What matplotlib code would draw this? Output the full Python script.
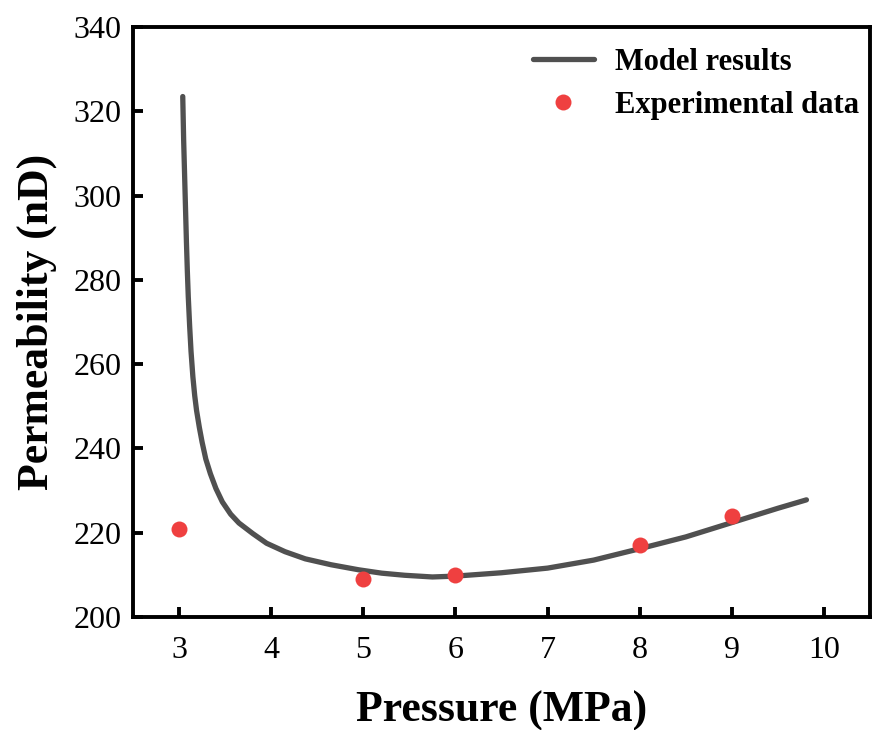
import numpy as np
import matplotlib.pyplot as plt

# --- Data ---
# model curve
p_model = [3.04, 3.05, 3.06, 3.07, 3.08, 3.09, 3.10, 3.115, 3.13, 3.15, 3.17, 3.19,
           3.22, 3.25, 3.29, 3.34, 3.40, 3.47, 3.56, 3.65, 3.80, 3.95, 4.15, 4.37,
           4.65, 4.95, 5.20, 5.45, 5.75, 6.00, 6.50, 7.00, 7.50, 8.00, 8.50, 9.00,
           9.50, 9.81]
k_model = [323.5, 313, 305, 297, 289, 282, 276, 269, 263, 257, 252.5, 249,
           245, 241.5, 237.5, 234, 230.5, 227.3, 224.4, 222.3, 219.8, 217.5, 215.5, 213.8,
           212.4, 211.2, 210.4, 209.9, 209.5, 209.7, 210.5, 211.6, 213.5, 216.2, 219.0, 222.4,
           225.8, 227.8]

# experimental points
p_exp = [3, 5, 6, 8, 9]
k_exp = [221, 209, 210, 217, 224]

xticks = [3, 4, 5, 6, 7, 8, 9, 10]
yticks = [200, 220, 240, 260, 280, 300, 320, 340]

plt.rcParams['font.family'] = ['Liberation Serif', 'DejaVu Serif']

# --- Plotting ---
fig = plt.figure(figsize=(8.73, 7.30), dpi=100)
ax = fig.add_axes([133/873, 113/730, 737/873, 590/730])

ax.plot(p_model, k_model, color='#505050', lw=3.8, solid_capstyle='round',
        label='Model results')
ax.plot(p_exp, k_exp, 'o', color='#EF4040', ms=11.5, mec='none',
        label='Experimental data')

ax.set_xlim(2.5, 10.5)
ax.set_ylim(200, 340)
ax.set_xticks(xticks)
ax.set_yticks(yticks)
ax.tick_params(direction='in', length=7, width=2.8, labelsize=23)
ax.tick_params(axis='x', pad=14)
ax.tick_params(axis='y', pad=8)
for s in ax.spines.values():
    s.set_linewidth(2.8)

ax.set_xlabel('Pressure (MPa)', fontsize=31.5, fontweight='bold', labelpad=18)
ax.set_ylabel('Permeability (nD)', fontsize=31.5, fontweight='bold', labelpad=12)

ax.legend(loc='upper right', bbox_to_anchor=(1.006, 0.99), frameon=False,
          prop={'size': 22, 'weight': 'bold'}, handlelength=2.0,
          handletextpad=0.7, labelspacing=0.45, borderpad=0)

fig.savefig('out.png', dpi=100)
